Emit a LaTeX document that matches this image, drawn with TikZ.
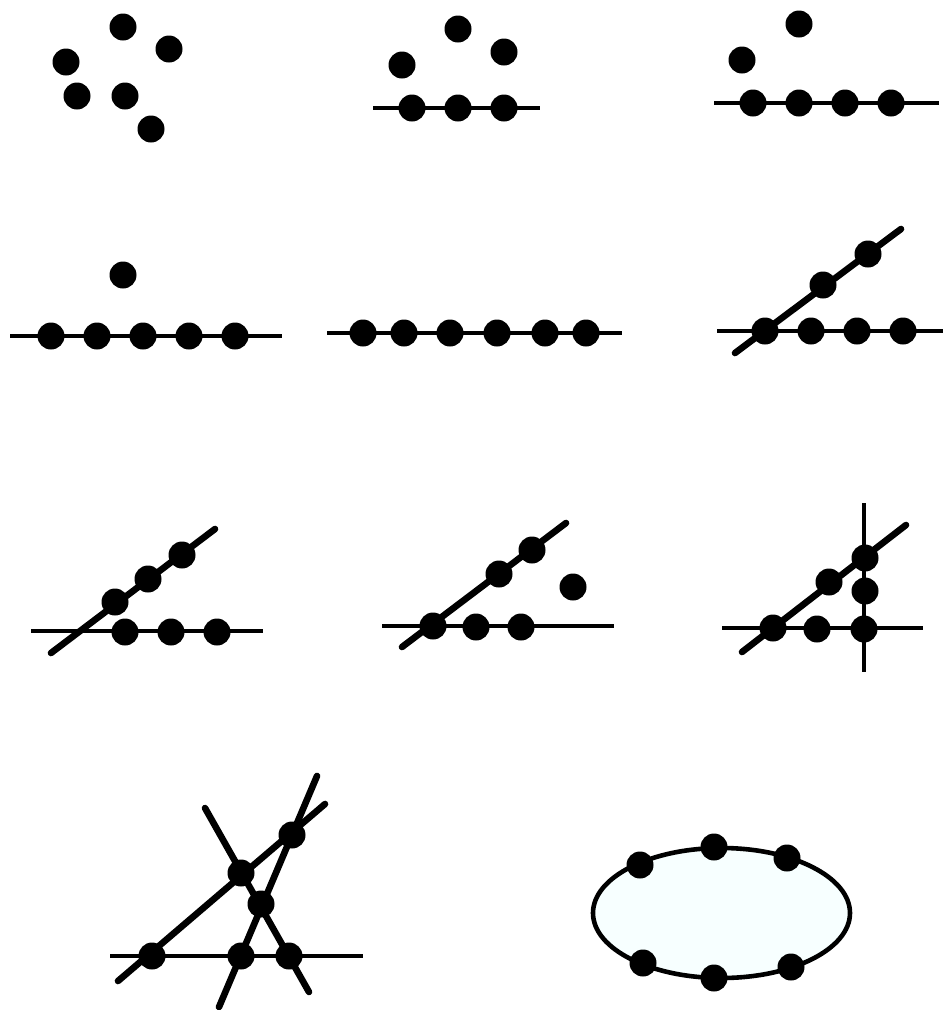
\documentclass[tikz,border=0pt]{standalone}
\usetikzlibrary{backgrounds}
\definecolor{palecyan}{RGB}{247,255,255}
\begin{document}
\begin{tikzpicture}[x=1pt,y=-1pt,
  dot/.style={circle,fill=black,inner sep=0pt,minimum size=27pt},
  thinln/.style={line width=4.6pt},
  thickln/.style={line width=6.6pt,line cap=round}]
\useasboundingbox (0,0) rectangle (943,1010);
% Panel 1
\node[dot] (a1) at (123,27) {};
\node[dot] (a2) at (169,49) {};
\node[dot] (a3) at (66,62) {};
\node[dot] (a4) at (77,96) {};
\node[dot] (a5) at (125,96) {};
\node[dot] (a6) at (151,129) {};
% Panel 2
\coordinate (bL) at (373,108); \coordinate (bR) at (540,108);
\node[dot] (b1) at (458,29) {};
\node[dot] (b2) at (504,52) {};
\node[dot] (b3) at (402,65) {};
\node[dot] (b4) at (412,108) {};
\node[dot] (b5) at (458,108) {};
\node[dot] (b6) at (504,108) {};
% Panel 3
\coordinate (cL) at (714,103); \coordinate (cR) at (939,103);
\node[dot] (c1) at (799,24) {};
\node[dot] (c2) at (742,60) {};
\node[dot] (c3) at (753,103) {};
\node[dot] (c4) at (799,103) {};
\node[dot] (c5) at (845,103) {};
\node[dot] (c6) at (891,103) {};
% Panel 4
\coordinate (dL) at (10,336); \coordinate (dR) at (282,336);
\node[dot] (d0) at (123,275) {};
\node[dot] (d1) at (51,336) {};
\node[dot] (d2) at (97,336) {};
\node[dot] (d3) at (143,336) {};
\node[dot] (d4) at (189,336) {};
\node[dot] (d5) at (235,336) {};
% Panel 5
\coordinate (eL) at (327,333); \coordinate (eR) at (622,333);
\node[dot] (e1) at (363,333) {};
\node[dot] (e2) at (404,333) {};
\node[dot] (e3) at (450,333) {};
\node[dot] (e4) at (497,333) {};
\node[dot] (e5) at (545,333) {};
\node[dot] (e6) at (586,333) {};
% Panel 6
\coordinate (fL) at (717,331); \coordinate (fR) at (943,331);
\coordinate (fD1) at (735,353); \coordinate (fD2) at (901,229);
\node[dot] (f1) at (765,331) {};
\node[dot] (f2) at (811,331) {};
\node[dot] (f3) at (857,331) {};
\node[dot] (f4) at (903,331) {};
\node[dot] (f5) at (823,285) {};
\node[dot] (f6) at (868,254) {};
% Panel 7
\coordinate (gL) at (31,631); \coordinate (gR) at (263,631);
\coordinate (gD1) at (51,653); \coordinate (gD2) at (215,529);
\node[dot] (g1) at (125,632) {};
\node[dot] (g2) at (171,632) {};
\node[dot] (g3) at (217,632) {};
\node[dot] (g4) at (115,602) {};
\node[dot] (g5) at (148,579) {};
\node[dot] (g6) at (182,555) {};
% Panel 8
\coordinate (hL) at (382,626); \coordinate (hR) at (614,626);
\coordinate (hD1) at (402,647); \coordinate (hD2) at (566,523);
\node[dot] (h1) at (433,626) {};
\node[dot] (h2) at (476,627) {};
\node[dot] (h3) at (521,627) {};
\node[dot] (h4) at (499,574) {};
\node[dot] (h5) at (532,550) {};
\node[dot] (h6) at (573,587) {};
% Panel 9
\coordinate (iL) at (722,628); \coordinate (iR) at (923,628);
\coordinate (iT) at (864,503); \coordinate (iB) at (864,672);
\coordinate (iD1) at (742,652); \coordinate (iD2) at (906,525);
\node[dot] (i1) at (773,628) {};
\node[dot] (i2) at (817,629) {};
\node[dot] (i3) at (864,629) {};
\node[dot] (i4) at (865,591) {};
\node[dot] (i5) at (829,582) {};
\node[dot] (i6) at (865,558) {};
% Panel 10
\coordinate (jL) at (110,956); \coordinate (jR) at (363,956);
\coordinate (jA1) at (118,981); \coordinate (jA2) at (325,804);
\coordinate (jB1) at (205,808); \coordinate (jB2) at (309,992);
\coordinate (jC1) at (219,1007); \coordinate (jC2) at (317,776);
\node[dot] (j1) at (152,956) {};
\node[dot] (j2) at (241,956) {};
\node[dot] (j3) at (289,956) {};
\node[dot] (j4) at (241,873) {};
\node[dot] (j5) at (261,904) {};
\node[dot] (j6) at (292,835) {};
% Panel 11
\begin{scope}[on background layer]
\draw[thinln,fill=palecyan] (721.5,913) ellipse [x radius=128.5, y radius=65];
\draw[thinln] (bL) -- (bR);
\draw[thinln] (cL) -- (cR);
\draw[thinln] (dL) -- (dR);
\draw[thinln] (eL) -- (eR);
\draw[thinln] (fL) -- (fR);
\draw[thickln] (fD1) -- (fD2);
\draw[thinln] (gL) -- (gR);
\draw[thickln] (gD1) -- (gD2);
\draw[thinln] (hL) -- (hR);
\draw[thickln] (hD1) -- (hD2);
\draw[thinln] (iL) -- (iR);
\draw[thinln] (iT) -- (iB);
\draw[thickln] (iD1) -- (iD2);
\draw[thinln] (jL) -- (jR);
\draw[thickln] (jA1) -- (jA2);
\draw[thickln] (jB1) -- (jB2);
\draw[thickln] (jC1) -- (jC2);
\end{scope}
\node[dot] (k1) at (640,865) {};
\node[dot] (k2) at (714,847) {};
\node[dot] (k3) at (787,858) {};
\node[dot] (k4) at (643,963) {};
\node[dot] (k5) at (714,978) {};
\node[dot] (k6) at (791,967) {};
\end{tikzpicture}
\end{document}
